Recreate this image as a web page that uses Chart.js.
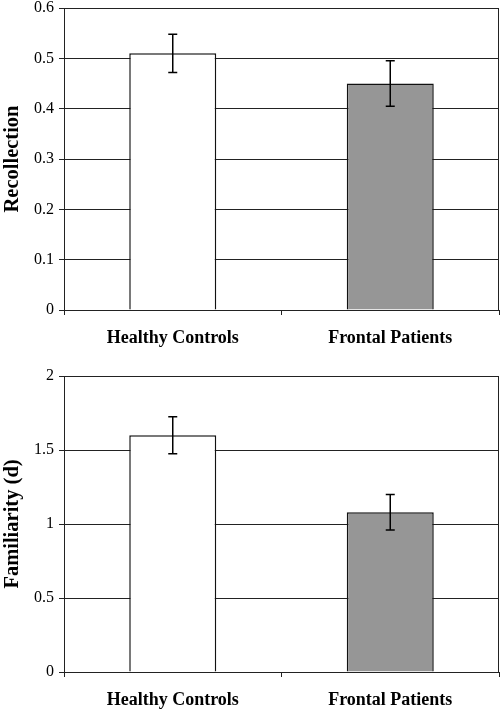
<!DOCTYPE html>
<html>
<head>
<meta charset="utf-8">
<script src="https://cdn.jsdelivr.net/npm/chart.js@4"></script>
<style>
  html, body { margin:0; padding:0; background:#fff; }
  .panel { position:absolute; left:0; width:500px; }
  #top { top:0; height:355px; }
  #bottom { top:355px; height:354px; }
</style>
</head>
<body>
<div class="panel" id="top"><canvas id="recChart"></canvas></div>
<div class="panel" id="bottom"><canvas id="famChart"></canvas></div>
<script>
// data
const groups = ['Healthy Controls', 'Frontal Patients'];
const recollection = [0.51, 0.45];
const recollectionErr = [0.038, 0.045];
const familiarity = [1.60, 1.08];
const familiarityErr = [0.125, 0.12];
const recTicks = [0, 0.1, 0.2, 0.3, 0.4, 0.5, 0.6];
const famTicks = [0, 0.5, 1, 1.5, 2];

const FILLS = ['#ffffff', '#969696'];
const FONT = "'Liberation Serif', 'Times New Roman', serif";

// error bars + plot frame
const extras = {
  id: 'extras',
  afterDatasetsDraw(chart, args, opts) {
    const { ctx, chartArea: a } = chart;
    const y = chart.scales.y;
    const meta = chart.getDatasetMeta(0);
    const vals = chart.data.datasets[0].data;
    ctx.save();
    ctx.strokeStyle = '#000';
    ctx.lineWidth = 1.5;
    meta.data.forEach((bar, i) => {
      const hi = y.getPixelForValue(vals[i] + opts.err[i]);
      const lo = y.getPixelForValue(vals[i] - opts.err[i]);
      ctx.beginPath();
      ctx.moveTo(bar.x, hi); ctx.lineTo(bar.x, lo);
      ctx.moveTo(bar.x - 4.5, hi); ctx.lineTo(bar.x + 4.5, hi);
      ctx.moveTo(bar.x - 4.5, lo); ctx.lineTo(bar.x + 4.5, lo);
      ctx.stroke();
    });
    ctx.lineWidth = 1;
    ctx.strokeStyle = '#222';
    ctx.strokeRect(Math.round(a.left) + 0.5, Math.round(a.top) + 0.5,
                   Math.round(a.right - a.left) - 1, Math.round(a.bottom - a.top));
    ctx.restore();
  }
};

function makeChart(id, values, errs, ticks, max, title, padTop, xHeight) {
  return new Chart(document.getElementById(id), {
    type: 'bar',
    data: {
      labels: groups,
      datasets: [{
        data: values,
        backgroundColor: FILLS,
        borderColor: '#111',
        borderWidth: 1.5,
        barPercentage: 0.4,
        categoryPercentage: 1.0,
      }]
    },
    options: {
      responsive: true,
      maintainAspectRatio: false,
      animation: false,
      layout: { padding: { top: padTop, right: 1, left: 0, bottom: 0 } },
      plugins: {
        legend: { display: false },
        tooltip: { enabled: false },
        extras: { err: errs }
      },
      scales: {
        x: {
          offset: true,
          afterFit(s) { s.height = xHeight; s.paddingLeft = 0; s.paddingRight = 0; },
          grid: { offset: true, drawOnChartArea: false, drawTicks: true, tickLength: 5, color: '#222' },
          border: { display: true, color: '#222', width: 1 },
          ticks: { color: '#000', padding: 13, font: { family: FONT, size: 18, weight: 'bold' } }
        },
        y: {
          min: 0, max: max,
          afterFit(s) { s.width = 64; s.paddingTop = 0; s.paddingBottom = 0; },
          afterBuildTicks(s) { s.ticks = ticks.map(v => ({ value: v })); },
          grid: { color: '#222', lineWidth: 1, tickLength: 5 },
          border: { display: true, color: '#222', width: 1 },
          ticks: { color: '#000', padding: 5, font: { family: FONT, size: 16 },
                   callback: v => String(v) },
          title: { display: true, text: title, color: '#000', padding: 0,
                   font: { family: FONT, size: 20.5, weight: 'bold' } }
        }
      }
    },
    plugins: [extras]
  });
}

makeChart('recChart', recollection, recollectionErr, recTicks, 0.6, 'Recollection', 8, 45);
makeChart('famChart', familiarity, familiarityErr, famTicks, 2, 'Familiarity (d)', 21, 37);
</script>
</body>
</html>
